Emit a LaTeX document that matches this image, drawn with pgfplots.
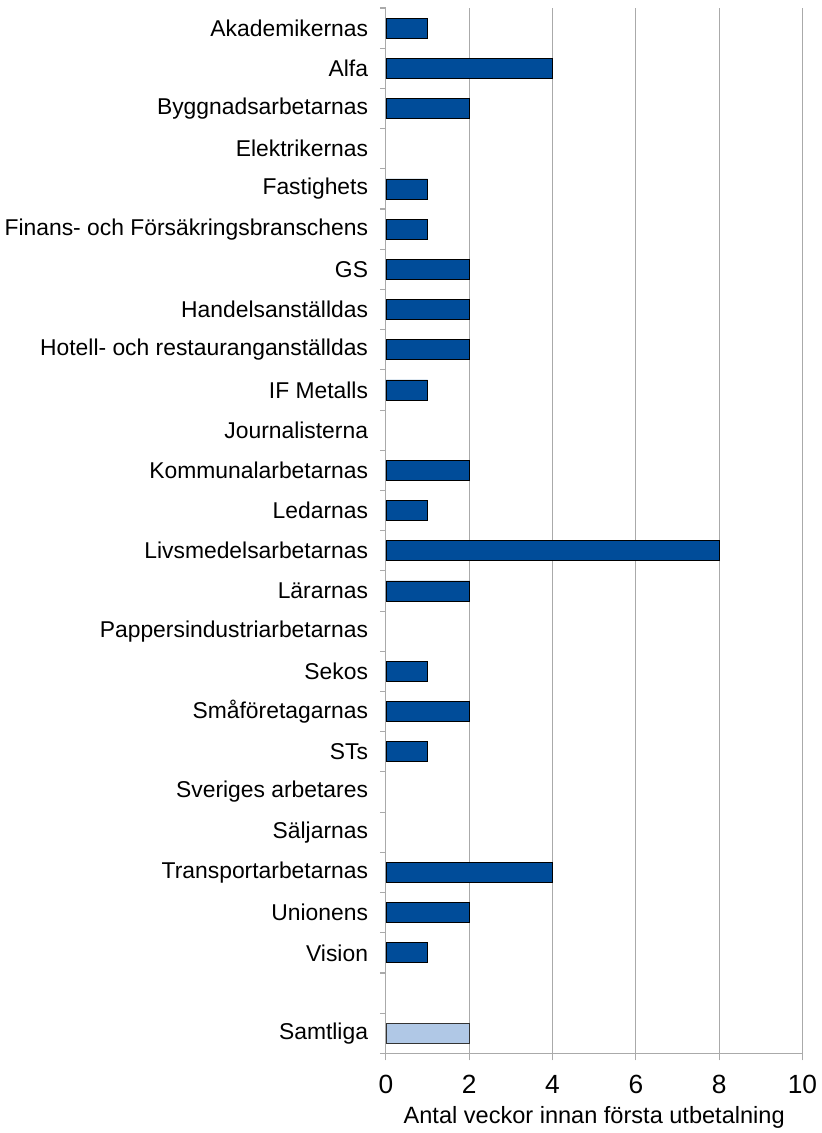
\documentclass[border=0pt]{standalone}
\usepackage{pgfplots}
\pgfplotsset{compat=1.18}
\usepackage{fontspec}
\setmainfont{Liberation Sans}
\definecolor{barblue}{RGB}{0,76,153}
\definecolor{barlight}{RGB}{176,200,230}
\definecolor{gridgray}{RGB}{170,170,170}

\begin{document}
\begin{tikzpicture}
\begin{axis}[
    scale only axis,
    width=4.16in, height=10.44in,
    xbar, bar width=0.2in,
    xmin=0, xmax=10,
    ymin=-0.5, ymax=25.5,
    y dir=reverse,
    axis lines*=left,
    axis line style={gridgray, line width=0.8pt},
    xtick={0,2,4,6,8,10},
    xmajorgrids,
    grid style={gridgray, line width=0.8pt},
    ytick={0,...,23,25},
    yticklabels={Akademikernas,Alfa,Byggnadsarbetarnas,Elektrikernas,Fastighets,Finans- och Försäkringsbranschens,GS,Handelsanställdas,Hotell- och restauranganställdas,IF Metalls,Journalisterna,Kommunalarbetarnas,Ledarnas,Livsmedelsarbetarnas,Lärarnas,Pappersindustriarbetarnas,Sekos,Småföretagarnas,STs,Sveriges arbetares,Säljarnas,Transportarbetarnas,Unionens,Vision,Samtliga},
    major y tick style={draw=none},
    minor ytick={-0.5,0.5,...,25.5},
    minor y tick style={gridgray, line width=0.8pt},
    minor tick length=0.06in,
    major x tick style={gridgray, line width=0.8pt},
    major tick length=0.07in,
    tick align=outside,
    yticklabel style={font=\fontsize{16.5}{18}\selectfont, xshift=-0.06in},
    xticklabel style={font=\fontsize{19}{21}\selectfont, yshift=-0.1in},
    xlabel={Antal veckor innan första utbetalning},
    xlabel style={font=\fontsize{17}{19}\selectfont, yshift=-0.03in},
    /pgf/number format/assume math mode=true,
]
\addplot[draw=black, line width=0.6pt, fill=barblue, bar shift=0pt] coordinates {
    (1,0) (4,1) (2,2) (1,4) (1,5) (2,6) (2,7) (2,8) (1,9)
    (2,11) (1,12) (8,13) (2,14) (1,16) (2,17) (1,18)
    (4,21) (2,22) (1,23)
};
\addplot[draw=black!80, line width=0.6pt, fill=barlight, bar shift=0pt] coordinates {
    (2,25)
};
\end{axis}
\path ([yshift=0.08in]current axis.north west) -- ([yshift=0.08in]current axis.north east);
\end{tikzpicture}
\end{document}
